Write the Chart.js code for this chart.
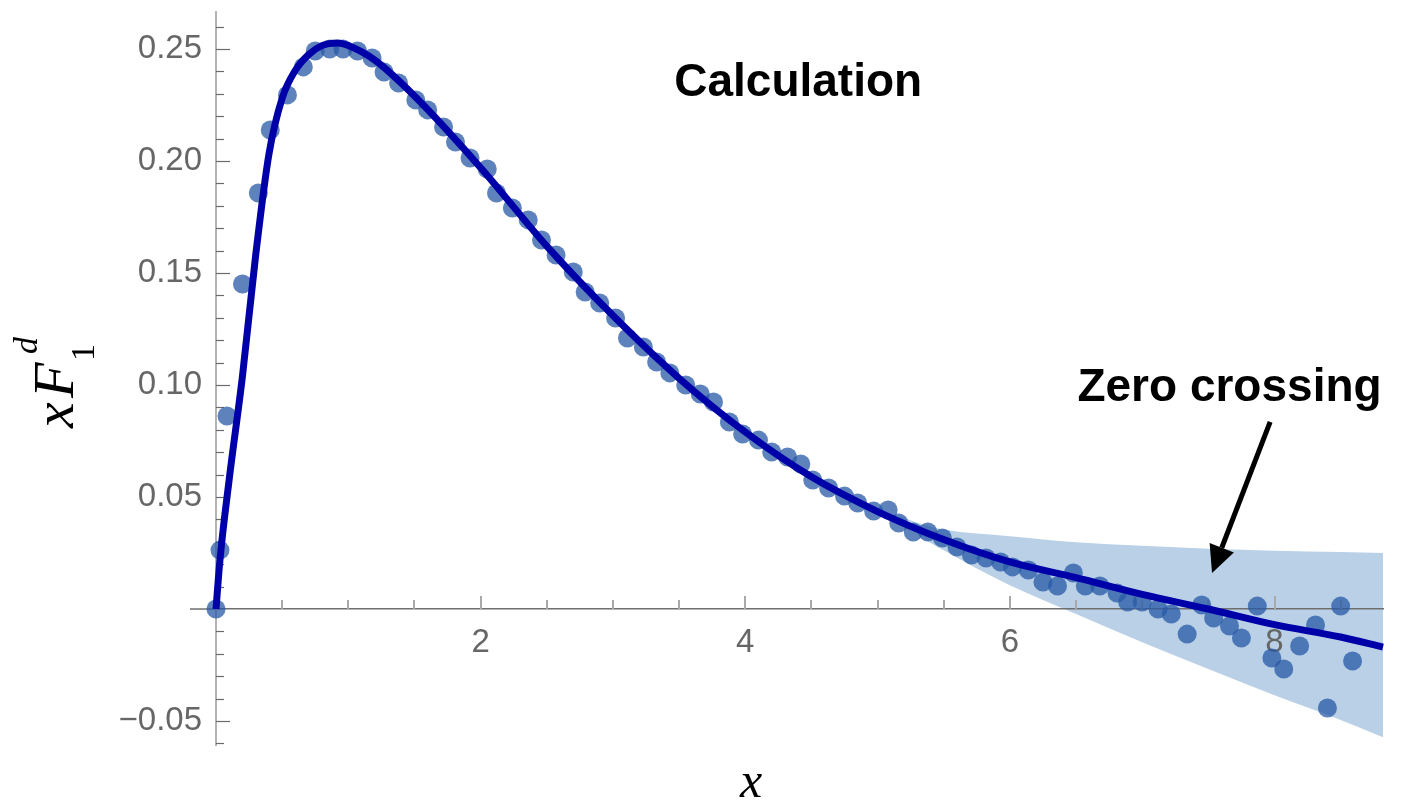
<!DOCTYPE html>
<html>
<head>
<meta charset="utf-8">
<style>
  html, body { margin: 0; padding: 0; background: #fff; }
  canvas { display: block; }
</style>
</head>
<body>
<canvas id="chart" width="1417" height="802"></canvas>
<script src="https://cdn.jsdelivr.net/npm/chart.js"></script>
<script>
// lattice data points
const dotX = [0, 0.03, 0.083, 0.2, 0.32, 0.41, 0.54, 0.66, 0.75, 0.86, 0.96, 1.07, 1.18, 1.27, 1.38,
  1.51, 1.60, 1.72, 1.81, 1.92, 2.05, 2.12, 2.24, 2.36, 2.46, 2.57, 2.70, 2.79, 2.90, 3.02,
  3.11, 3.23, 3.33, 3.43, 3.55, 3.66, 3.76, 3.88, 3.98, 4.10, 4.20, 4.32, 4.42, 4.51, 4.63,
  4.75, 4.85, 4.97, 5.08, 5.16, 5.27, 5.38, 5.49, 5.60, 5.71, 5.82, 5.93, 6.02, 6.14, 6.25,
  6.36, 6.48, 6.57, 6.68, 6.81, 6.89, 7.00, 7.12, 7.22, 7.34, 7.45, 7.54, 7.66, 7.75, 7.87,
  7.98, 8.07, 8.19, 8.31, 8.40, 8.50, 8.59];
const dotY = [0, 0.0263, 0.0862, 0.1451, 0.1857, 0.2138, 0.2295, 0.2420, 0.2491, 0.2500, 0.2500, 0.2491, 0.2460, 0.2397, 0.2348,
  0.2272, 0.2228, 0.2152, 0.2085, 0.2013, 0.1964, 0.1857, 0.1790, 0.1737, 0.1647, 0.1580, 0.1504, 0.1415, 0.1366, 0.1299,
  0.1210, 0.1170, 0.1103, 0.1054, 0.1000, 0.0960, 0.0924, 0.0835, 0.0781, 0.0754, 0.0701, 0.0679, 0.0647, 0.0576, 0.0540,
  0.0504, 0.0473, 0.0437, 0.0442, 0.0384, 0.0344, 0.0344, 0.0317, 0.0277, 0.0241, 0.0228, 0.0210, 0.0188, 0.0174, 0.0121,
  0.0103, 0.0161, 0.0103, 0.0103, 0.0071, 0.0031, 0.0031, 0.0000, -0.0022, -0.0112, 0.0018, -0.0040, -0.0076, -0.0129, 0.0013,
  -0.0219, -0.0268, -0.0165, -0.0071, -0.0442, 0.0013, -0.0232];

// calculated curve
const curveX = [0, 0.03, 0.1, 0.2, 0.3, 0.4, 0.5, 0.6, 0.7, 0.8, 0.92, 1.0, 1.2, 1.5, 2.0, 2.5,
  3.0, 3.5, 4.0, 4.5, 5.0, 5.5, 6.0, 6.5, 7.0, 7.5, 8.0, 8.5, 8.82];
const curveY = [0, 0.022, 0.058, 0.104, 0.158, 0.203, 0.228, 0.2405, 0.2475, 0.2515, 0.2527, 0.2515, 0.2450, 0.2290, 0.1970, 0.1620,
  0.1310, 0.1030, 0.0790, 0.0590, 0.0435, 0.0310, 0.0210, 0.0140, 0.0065, 0.0000, -0.0070, -0.0125, -0.0170];

// uncertainty band
const bandX = [5.15, 5.3, 5.5, 6.0, 6.5, 7.0, 7.5, 8.0, 8.5, 8.82];
const bandUpper = [0.0420, 0.0385, 0.0355, 0.0325, 0.0298, 0.0282, 0.0269, 0.0260, 0.0254, 0.0250];
const bandLower = [0.0420, 0.0335, 0.0262, 0.0106, -0.0022, -0.0148, -0.0268, -0.0385, -0.0495, -0.0572];

const xTicks = [2, 4, 6, 8];
const yTicks = [-0.05, 0.05, 0.10, 0.15, 0.20, 0.25];

const pts = (xs, ys) => xs.map((x, i) => ({ x: x, y: ys[i] }));
const tickFont = { family: '"Liberation Sans", Arial, sans-serif', size: 33 };

// minor ticks, annotations and axis titles
const extras = {
  id: 'extras',
  beforeDatasetsDraw(chart) {
    const { ctx, scales: { x, y } } = chart;
    const x0 = x.getPixelForValue(0);
    const y0 = y.getPixelForValue(0);
    ctx.save();
    ctx.strokeStyle = '#6e6e6e';
    ctx.lineWidth = 1.5;
    ctx.beginPath(); ctx.moveTo(x0 - 26, y0); ctx.lineTo(x0, y0); ctx.stroke();

    ctx.strokeStyle = '#6b6b6b';
    ctx.lineWidth = 1.2;
    for (let i = -6; i <= 26; i++) {
      if (i === 0) continue;
      const py = Math.round(y.getPixelForValue(i / 100)) + 0.5;
      const len = i % 5 === 0 ? 14 : 8;
      ctx.beginPath(); ctx.moveTo(x0, py); ctx.lineTo(x0 + len, py); ctx.stroke();
    }

    ctx.strokeStyle = '#a9a9a9';
    ctx.lineWidth = 2;
    for (let i = 1; i <= 17; i++) {
      const px = Math.round(x.getPixelForValue(i / 2));
      const len = i % 4 === 0 ? 13 : 9;
      ctx.beginPath(); ctx.moveTo(px, y0); ctx.lineTo(px, y0 - len); ctx.stroke();
    }
    ctx.restore();
  },
  afterDraw(chart) {
    const { ctx, scales: { x, y } } = chart;
    ctx.save();
    ctx.fillStyle = '#000';
    ctx.font = 'bold 46px "Liberation Sans", Arial, sans-serif';
    ctx.textAlign = 'center';
    ctx.textBaseline = 'alphabetic';
    ctx.fillText('Calculation', x.getPixelForValue(4.4), y.getPixelForValue(0.229));
    ctx.fillText('Zero crossing', x.getPixelForValue(7.66), y.getPixelForValue(0.0929));

    // arrow to the zero crossing
    const tx = x.getPixelForValue(7.528), ty = y.getPixelForValue(0.0161);
    const sx = x.getPixelForValue(7.967), sy = y.getPixelForValue(0.0835);
    const ang = Math.atan2(ty - sy, tx - sx);
    const head = 27, half = 13;
    const bx = tx - head * Math.cos(ang), by = ty - head * Math.sin(ang);
    ctx.strokeStyle = '#000';
    ctx.lineWidth = 5;
    ctx.beginPath(); ctx.moveTo(sx, sy); ctx.lineTo(bx, by); ctx.stroke();
    ctx.beginPath();
    ctx.moveTo(tx, ty);
    ctx.lineTo(bx + half * Math.sin(ang), by - half * Math.cos(ang));
    ctx.lineTo(bx - half * Math.sin(ang), by + half * Math.cos(ang));
    ctx.closePath();
    ctx.fill();

    // axis titles
    ctx.font = 'italic 50px "Liberation Serif", serif';
    ctx.fillText('x', 751, 797);

    ctx.translate(73, 428);
    ctx.rotate(-Math.PI / 2);
    ctx.textAlign = 'left';
    ctx.font = 'italic 58px "Liberation Serif", serif';
    ctx.fillText('x', 0, 0);
    ctx.fillText('F', 30, 0);
    ctx.font = '34px "Liberation Serif", serif';
    ctx.fillText('1', 67, 21);
    ctx.font = 'italic 34px "Liberation Serif", serif';
    ctx.fillText('d', 74, -36);
    ctx.restore();
  }
};

const zeroPad = s => { s.paddingTop = 0; s.paddingBottom = 0; s.paddingLeft = 0; s.paddingRight = 0; };

new Chart(document.getElementById('chart'), {
  type: 'scatter',
  data: {
    datasets: [
      {
        type: 'line',
        data: pts(curveX, curveY),
        borderColor: '#0000a8',
        borderWidth: 7,
        pointRadius: 0,
        cubicInterpolationMode: 'monotone',
        showLine: true,
        fill: false,
        clip: false,
        order: 0
      },
      {
        data: pts(dotX, dotY),
        backgroundColor: 'rgba(40, 90, 165, 0.75)',
        borderWidth: 0,
        pointRadius: 9.5,
        clip: false,
        order: 1
      },
      {
        type: 'line',
        data: pts(bandX, bandUpper),
        borderWidth: 0,
        pointRadius: 0,
        cubicInterpolationMode: 'monotone',
        showLine: true,
        fill: false,
        order: 3
      },
      {
        type: 'line',
        data: pts(bandX, bandLower),
        borderWidth: 0,
        pointRadius: 0,
        cubicInterpolationMode: 'monotone',
        showLine: true,
        backgroundColor: '#b9d0e7',
        fill: '-1',
        order: 2
      }
    ]
  },
  options: {
    responsive: false,
    devicePixelRatio: 1,
    animation: false,
    layout: { padding: { left: 0, top: 12, right: 34, bottom: 57 } },
    plugins: {
      legend: { display: false },
      tooltip: { enabled: false },
      filler: { drawTime: 'beforeDraw' }
    },
    scales: {
      x: {
        type: 'linear',
        min: 0,
        max: 8.82,
        position: { y: 0 },
        grid: { display: false, drawTicks: false },
        border: { display: true, color: '#6e6e6e', width: 1.5 },
        ticks: { font: tickFont, color: '#666', padding: 14 },
        afterBuildTicks: s => { s.ticks = xTicks.map(v => ({ value: v })); },
        afterFit: s => { s.height = 0; zeroPad(s); }
      },
      y: {
        type: 'linear',
        min: -0.0607,
        max: 0.2665,
        position: 'left',
        grid: { display: false, drawTicks: false },
        border: { display: true, color: '#b4b4b4', width: 2 },
        ticks: {
          font: tickFont,
          color: '#666',
          padding: 14,
          callback: v => (v < 0 ? '\u2212' : '') + Math.abs(v).toFixed(2)
        },
        afterBuildTicks: s => { s.ticks = yTicks.map(v => ({ value: v })); },
        afterFit: s => { s.width = 216; zeroPad(s); }
      }
    }
  },
  plugins: [extras]
});
</script>
</body>
</html>
